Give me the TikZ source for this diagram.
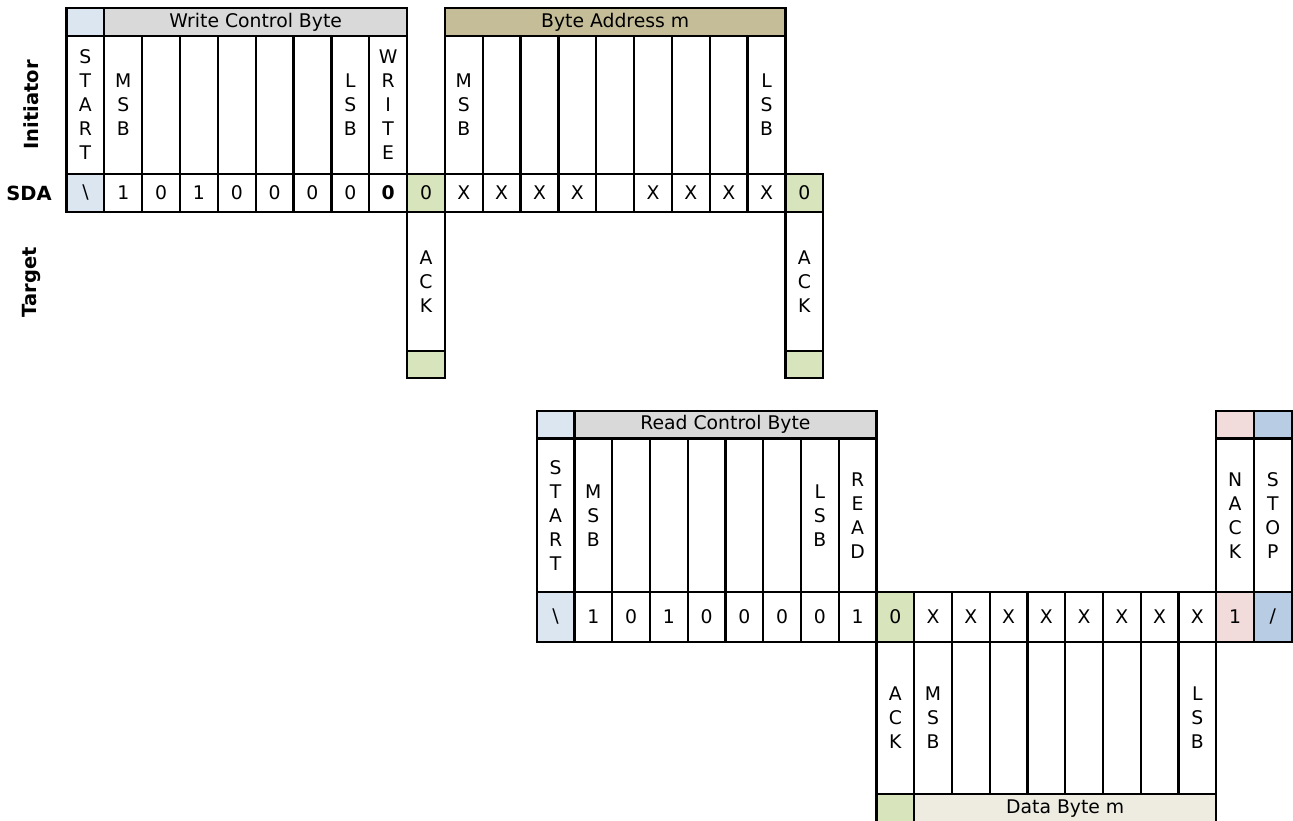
\documentclass[tikz,border=0pt]{standalone}
\usepackage{fontspec}
\setmainfont{DejaVu Sans}
\definecolor{startblue}{HTML}{DCE6F1}
\definecolor{hdrgray}{HTML}{D9D9D9}
\definecolor{addrtan}{HTML}{C4BD97}
\definecolor{ackgreen}{HTML}{D8E4BC}
\definecolor{nackpink}{HTML}{F2DCDB}
\definecolor{stopblue}{HTML}{B8CCE4}
\definecolor{datatan}{HTML}{EEECE1}
\begin{document}
\begin{tikzpicture}[x=1pt,y=-1pt,
  cellbox/.style={draw=black, line width=2.3pt, anchor=north west, inner sep=0pt, outer sep=0pt,
    align=center, font=\fontsize{18.8}{24}\selectfont, text=black},
  sidelabel/.style={font=\fontsize{19.5}{22}\selectfont\bfseries, inner sep=0pt}]
\useasboundingbox (0,0) rectangle (1293,821);
\def\tw{37.84}
\def\bw{37.75}
% ---------------- top: write control byte + byte address ----------------
\node[cellbox, fill=startblue, minimum width=\tw pt, minimum height=27.7pt] (thdr0) at (66.5,8.3) {};
\node[cellbox, fill=hdrgray, minimum width={8*\tw pt}, minimum height=27.7pt] (thdrw) at ({66.5+\tw},8.3) {Write Control Byte};
\node[cellbox, fill=addrtan, minimum width={9*\tw pt}, minimum height=27.7pt] (thdra) at ({66.5+10*\tw},8.3) {Byte Address m};
\foreach \i/\t in {0/{S\\T\\A\\R\\T},1/{M\\S\\B},2/{},3/{},4/{},5/{},6/{},7/{L\\S\\B},8/{W\\R\\I\\T\\E},
                   10/{M\\S\\B},11/{},12/{},13/{},14/{},15/{},16/{},17/{},18/{L\\S\\B}}{
  \node[cellbox, minimum width=\tw pt, minimum height=137.7pt] (tlab\i) at ({66.5+\i*\tw},36) {\t};
}
\foreach \i/\t/\c in {0/\textbackslash/startblue,1/1/white,2/0/white,3/1/white,4/0/white,5/0/white,6/0/white,7/0/white,
                      8/\textbf{0}/white,9/0/ackgreen,10/X/white,11/X/white,12/X/white,13/X/white,14/{}/white,
                      15/X/white,16/X/white,17/X/white,18/X/white,19/0/ackgreen}{
  \node[cellbox, fill=\c, minimum width=\tw pt, minimum height=38.3pt] (tsda\i) at ({66.5+\i*\tw},173.7) {\t};
}
\foreach \i in {9,19}{
  \node[cellbox, minimum width=\tw pt, minimum height=139pt] (ttgt\i) at ({66.5+\i*\tw},212) {A\\C\\K};
  \node[cellbox, fill=ackgreen, minimum width=\tw pt, minimum height=27pt] (ttgh\i) at ({66.5+\i*\tw},351) {};
}
\node[sidelabel, rotate=90] (initiator) at (31,105) {Initiator};
\node[sidelabel] (sda) at (29,193) {SDA};
\node[sidelabel, rotate=90] (target) at (31,282) {Target};
% ---------------- bottom: read control byte + data byte ----------------
\node[cellbox, fill=startblue, minimum width=\bw pt, minimum height=27.5pt] (bhdr0) at (536.7,411) {};
\node[cellbox, fill=hdrgray, minimum width={8*\bw pt}, minimum height=27.5pt] (bhdrr) at ({536.7+\bw},411) {Read Control Byte};
\node[cellbox, fill=nackpink, minimum width=\bw pt, minimum height=27.5pt] (bhdr18) at ({536.7+18*\bw},411) {};
\node[cellbox, fill=stopblue, minimum width=\bw pt, minimum height=27.5pt] (bhdr19) at ({536.7+19*\bw},411) {};
\foreach \i/\t in {0/{S\\T\\A\\R\\T},1/{M\\S\\B},2/{},3/{},4/{},5/{},6/{},7/{L\\S\\B},8/{R\\E\\A\\D},
                   18/{N\\A\\C\\K},19/{S\\T\\O\\P}}{
  \node[cellbox, minimum width=\bw pt, minimum height=153.5pt] (blab\i) at ({536.7+\i*\bw},438.5) {\t};
}
\foreach \i/\t/\c in {0/\textbackslash/startblue,1/1/white,2/0/white,3/1/white,4/0/white,5/0/white,6/0/white,7/0/white,
                      8/1/white,9/0/ackgreen,10/X/white,11/X/white,12/X/white,13/X/white,14/X/white,
                      15/X/white,16/X/white,17/X/white,18/1/nackpink,19/{/}/stopblue}{
  \node[cellbox, fill=\c, minimum width=\bw pt, minimum height=49.7pt] (bsda\i) at ({536.7+\i*\bw},592) {\t};
}
\foreach \i/\t in {9/{A\\C\\K},10/{M\\S\\B},11/{},12/{},13/{},14/{},15/{},16/{},17/{L\\S\\B}}{
  \node[cellbox, minimum width=\bw pt, minimum height=152.6pt] (btgt\i) at ({536.7+\i*\bw},641.7) {\t};
}
\node[cellbox, fill=ackgreen, minimum width=\bw pt, minimum height=30pt] (btgh9) at ({536.7+9*\bw},794.3) {};
\node[cellbox, fill=datatan, minimum width={8*\bw pt}, minimum height=30pt] (btghd) at ({536.7+10*\bw},794.3) {};
\node[font=\fontsize{18.8}{24}\selectfont, inner sep=0pt] (datalbl) at ({536.7+14*\bw},808.5) {Data Byte m};
\end{tikzpicture}
\end{document}
